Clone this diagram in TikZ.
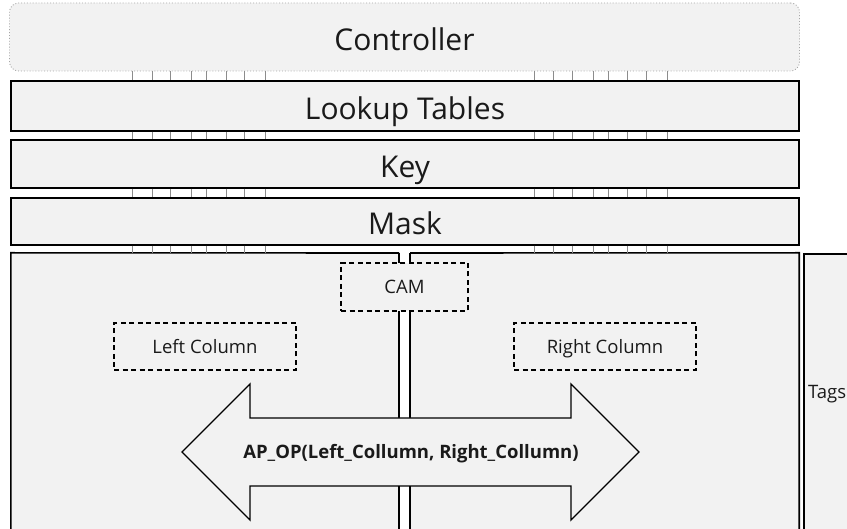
\documentclass[tikz,border=0pt]{standalone}
\usepackage{fontspec}
\setmainfont{Open Sans}
\definecolor{panelfill}{HTML}{F2F2F2}
\definecolor{ink}{HTML}{1A1A1A}
\definecolor{busgray}{HTML}{8C8C8C}
\begin{document}
\begin{tikzpicture}[x=1pt,y=-1pt,
  bigtext/.style={text=ink,font=\fontsize{30}{34}\selectfont,text height=27pt,text depth=0pt},
  layer/.style={bigtext,draw=black,line width=1.4pt,fill=panelfill,minimum width=788pt,inner sep=0pt},
  ctrlbox/.style={bigtext,draw=gray!70,dotted,line width=0.9pt,fill=panelfill,rounded corners=9pt,
    minimum width=790pt,minimum height=68pt,inner sep=0pt},
  heavy/.style={draw=black,line width=1.6pt},
  smalltext/.style={inner sep=0pt,text=ink,font=\fontsize{18.5}{22}\selectfont,
    text height=13.2pt,text depth=0pt},
  dashbox/.style={smalltext,draw=black,line width=1.5pt,dash pattern=on 5pt off 3.5pt,fill=panelfill},
  busline/.style={draw=busgray,line width=0.8pt},
  pipeline/.style={draw=black,line width=1.3pt}]
\clip (0,0) rectangle (847,529);
\fill[white] (0,0) rectangle (847,529);

% stacked layers
\node[ctrlbox] (ctrl) at (404.5,37) {Controller};
\node[layer,minimum height=50pt] (lut)  at (405,106) {Lookup Tables};
\node[layer,minimum height=48pt] (key)  at (405,164) {Key};
\node[layer,minimum height=47pt] (mask) at (405,221.5) {Mask};

% core panel and tag column
\node[fill=panelfill,minimum width=788pt,minimum height=294pt,inner sep=0pt] (core) at (405,400) {};
\node[heavy,fill=panelfill,minimum width=70pt,minimum height=294pt,inner sep=0pt,anchor=north west] (tags) at (803,253) {};
\node[smalltext,anchor=west] (tagtext) at (808,392) {Tags};

% vertical pipe from the mask down through the panel
\coordinate (pipeL) at (399,253);
\coordinate (pipeR) at (410,253);
\fill[white] (pipeL) rectangle (pipeR |- core.south);
\draw[pipeline] (pipeL) -- (pipeL |- core.south);
\draw[pipeline] (pipeR) -- (pipeR |- core.south);

% panel outline, open where the pipe enters
\draw[heavy] (pipeL) -- (core.north west) -- (core.south west) -- (core.south east) -- (core.north east) -- (pipeR);

% inner blocks
\node[dashbox,minimum width=127pt,minimum height=48pt] (cam) at (404.5,287) {CAM};
\node[dashbox,minimum width=182pt,minimum height=47pt] (leftcol) at (205,346.5) {Left Column};
\node[dashbox,minimum width=182pt,minimum height=47pt] (rightcol) at (605,346.5) {Right Column};

% two-headed operation arrow
\draw[line width=1.3pt,fill=panelfill,line join=miter]
  (182,452) -- (250,384) -- (250,418) -- (571,418) -- (571,384) -- (639,452)
  -- (571,520) -- (571,486) -- (250,486) -- (250,520) -- cycle;
\node[smalltext,font=\bfseries\fontsize{18.5}{22}\selectfont] (op) at (411,452)
  {AP\_OP(Left\_Collumn, Right\_Collumn)};

% bus lanes between neighbouring layers
\foreach \x in {132,152,170,191,206,226,244,265,534,553,572,593,608,627,646,667}{
  \draw[busline] (\x,0 |- ctrl.south) -- (\x,0 |- lut.north);
  \draw[busline] (\x,0 |- lut.south) -- (\x,0 |- key.north);
  \draw[busline] (\x,0 |- key.south) -- (\x,0 |- mask.north);
  \draw[busline] (\x,0 |- mask.south) -- (\x,0 |- core.north);
}
\end{tikzpicture}
\end{document}
